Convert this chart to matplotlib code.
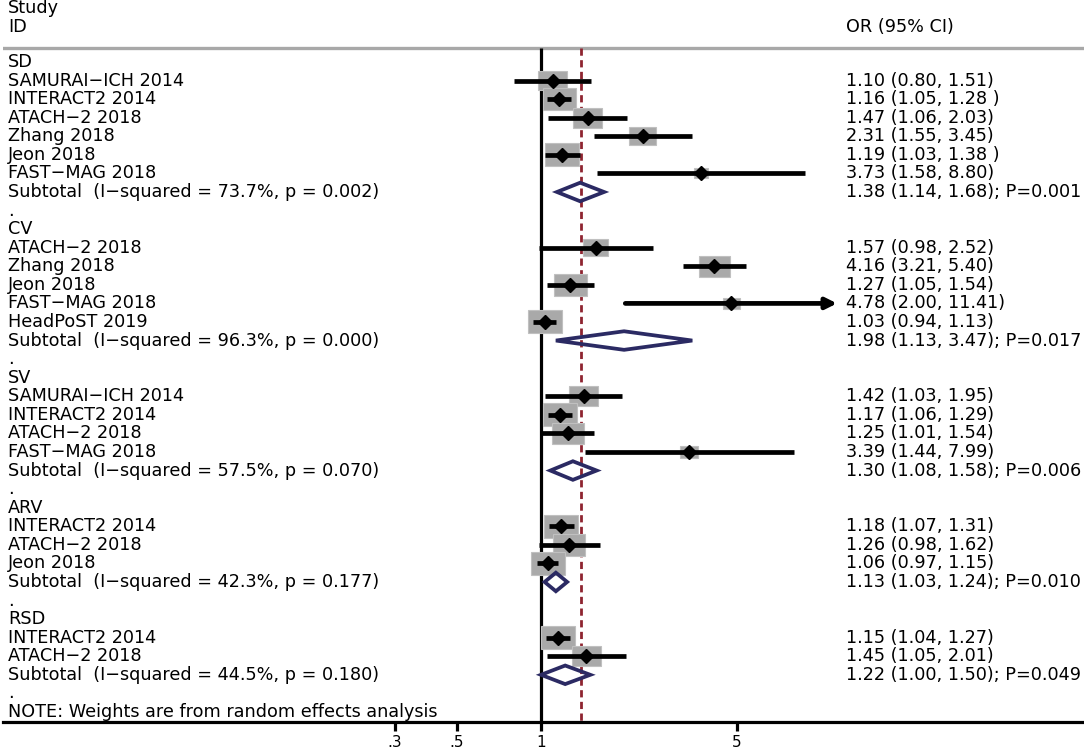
import numpy as np
import matplotlib
matplotlib.use("Agg")
import matplotlib.pyplot as plt
from matplotlib.patches import Rectangle, Polygon
import matplotlib.transforms as mtransforms

plt.rcParams['font.family'] = ['DejaVu Sans']

# ── data ──────────────────────────────────────────────────────────────────────
groups = ["SD", "CV", "SV", "ARV", "RSD"]

studies = [
    ["SAMURAI−ICH 2014", "INTERACT2 2014", "ATACH−2 2018", "Zhang 2018", "Jeon 2018", "FAST−MAG 2018"],
    ["ATACH−2 2018", "Zhang 2018", "Jeon 2018", "FAST−MAG 2018", "HeadPoST 2019"],
    ["SAMURAI−ICH 2014", "INTERACT2 2014", "ATACH−2 2018", "FAST−MAG 2018"],
    ["INTERACT2 2014", "ATACH−2 2018", "Jeon 2018"],
    ["INTERACT2 2014", "ATACH−2 2018"],
]
odds = [
    [1.10, 1.16, 1.47, 2.31, 1.19, 3.73],
    [1.57, 4.16, 1.27, 4.78, 1.03],
    [1.42, 1.17, 1.25, 3.39],
    [1.18, 1.26, 1.06],
    [1.15, 1.45],
]
lower = [
    [0.80, 1.05, 1.06, 1.55, 1.03, 1.58],
    [0.98, 3.21, 1.05, 2.00, 0.94],
    [1.03, 1.06, 1.01, 1.44],
    [1.07, 0.98, 0.97],
    [1.04, 1.05],
]
upper = [
    [1.51, 1.28, 2.03, 3.45, 1.38, 8.80],
    [2.52, 5.40, 1.54, 11.41, 1.13],
    [1.95, 1.29, 1.54, 7.99],
    [1.31, 1.62, 1.15],
    [1.27, 2.01],
]
# relative box area
box_weight = [
    [0.73, 0.94, 0.73, 0.63, 1.00, 0.19],
    [0.54, 0.83, 0.94, 0.25, 1.00],
    [0.73, 1.00, 0.89, 0.28],
    [1.00, 0.89, 1.00],
    [1.00, 0.73],
]
ci_text = [
    ["1.10 (0.80, 1.51)", "1.16 (1.05, 1.28 )", "1.47 (1.06, 2.03)",
     "2.31 (1.55, 3.45)", "1.19 (1.03, 1.38 )", "3.73 (1.58, 8.80)"],
    ["1.57 (0.98, 2.52)", "4.16 (3.21, 5.40)", "1.27 (1.05, 1.54)",
     "4.78 (2.00, 11.41)", "1.03 (0.94, 1.13)"],
    ["1.42 (1.03, 1.95)", "1.17 (1.06, 1.29)", "1.25 (1.01, 1.54)", "3.39 (1.44, 7.99)"],
    ["1.18 (1.07, 1.31)", "1.26 (0.98, 1.62)", "1.06 (0.97, 1.15)"],
    ["1.15 (1.04, 1.27)", "1.45 (1.05, 2.01)"],
]
sub_or = [1.38, 1.98, 1.30, 1.13, 1.22]
sub_lo = [1.14, 1.13, 1.08, 1.03, 1.00]
sub_hi = [1.68, 3.47, 1.58, 1.24, 1.50]
sub_i2 = [73.7, 96.3, 57.5, 42.3, 44.5]
sub_het_p = ["0.002", "0.000", "0.070", "0.177", "0.180"]
sub_p = ["0.001", "0.017", "0.006", "0.010", "0.049"]
overall_or = 1.39

xticks = [0.3, 0.5, 1, 5]
xtick_labels = [".3", ".5", "1", "5"]

# ── figure ────────────────────────────────────────────────────────────────────
W, H = 1084, 751
fig = plt.figure(figsize=(W / 100, H / 100), dpi=100)
axis_px = 722                      # pixel row of the x axis line
ax = fig.add_axes([3 / W, (H - axis_px) / H, 1 - 3 / W, axis_px / H])
ax.set_xscale("log")

px_per_dec = 280.0
x_one = 541.0 - 3
ax.set_xlim(10 ** (-x_one / px_per_dec), 10 ** ((W - 3 - x_one) / px_per_dec))
row_px = 18.57
row0_px = 62.0
ax.set_ylim((axis_px - row0_px) / row_px, -row0_px / row_px)

for s in ["top", "left", "right"]:
    ax.spines[s].set_visible(False)
ax.spines["bottom"].set_linewidth(2.3)
ax.set_yticks([])
ax.set_xticks(xticks)
ax.set_xticklabels(xtick_labels)
ax.minorticks_off()
ax.tick_params(axis="x", direction="out", length=6.5, width=2.3, pad=3, labelsize=11)

left_tr = mtransforms.blended_transform_factory(fig.transFigure, ax.transData)
x_left = 8 / W
x_right = 846 / W
fs = 12.7

top_row = (48 - row0_px) / row_px
bottom_row = ax.get_ylim()[0]

ax.text(x_left, (8 - row0_px) / row_px, "Study", transform=left_tr, va="center", fontsize=fs)
ax.text(x_left, (27 - row0_px) / row_px, "ID", transform=left_tr, va="center", fontsize=fs)
ax.text(x_right, (27 - row0_px) / row_px, "OR (95% CI)", transform=left_tr, va="center", fontsize=fs)
ax.axhline(top_row, color="#a8a8a8", lw=2.4, xmin=0, xmax=1, zorder=1)

ax.vlines(1, top_row, bottom_row, color="black", lw=2.3, zorder=1)
ax.vlines(overall_or, top_row, bottom_row, color="#8e2430", lw=2.0,
          linestyles=(0, (2.6, 1.6)), zorder=1.5)

box_w_px, box_h_px = 34.0, 23.0
row = 0
for g, name in enumerate(groups):
    ax.text(x_left, row, name, transform=left_tr, va="center", fontsize=fs)
    row += 1
    for i, st in enumerate(studies[g]):
        o, lo, hi, wt = odds[g][i], lower[g][i], upper[g][i], box_weight[g][i]
        hw = box_w_px * np.sqrt(wt) / 2 / px_per_dec
        hh = box_h_px * np.sqrt(wt) / 2 / row_px
        ax.add_patch(Rectangle((o * 10 ** (-hw), row - hh), o * 10 ** hw - o * 10 ** (-hw), 2 * hh,
                               facecolor="#a9a9a9", edgecolor="#c0c0c0", lw=0.8, zorder=2))
        if hi > 10:
            ax.annotate("", xy=(hi, row), xytext=(lo, row),
                        arrowprops=dict(arrowstyle="-|>", lw=3.4, color="black",
                                        mutation_scale=16, shrinkA=0, shrinkB=0),
                        zorder=3)
        else:
            ax.plot([lo, hi], [row, row], color="black", lw=3.4, solid_capstyle="butt", zorder=3)
        ax.plot(o, row, "D", color="black", ms=7, zorder=4)
        ax.text(x_left, row, st, transform=left_tr, va="center", fontsize=fs)
        ax.text(x_right, row, ci_text[g][i], transform=left_tr, va="center", fontsize=fs)
        row += 1
    dh = 0.5
    ax.add_patch(Polygon([(sub_lo[g], row), (sub_or[g], row - dh), (sub_hi[g], row), (sub_or[g], row + dh)],
                         closed=True, fill=False, edgecolor="#2b2a63", lw=2.7, zorder=3))
    ax.text(x_left, row, f"Subtotal  (I−squared = {sub_i2[g]:.1f}%, p = {sub_het_p[g]})",
            transform=left_tr, va="center", fontsize=fs)
    ax.text(x_right, row, f"{sub_or[g]:.2f} ({sub_lo[g]:.2f}, {sub_hi[g]:.2f}); P={sub_p[g]}",
            transform=left_tr, va="center", fontsize=fs)
    row += 1
    ax.text(x_left, row, ".", transform=left_tr, va="center", fontsize=fs)
    row += 1

ax.text(x_left, row, "NOTE: Weights are from random effects analysis", transform=left_tr,
        va="center", fontsize=fs)

fig.savefig("out.png", dpi=100)
